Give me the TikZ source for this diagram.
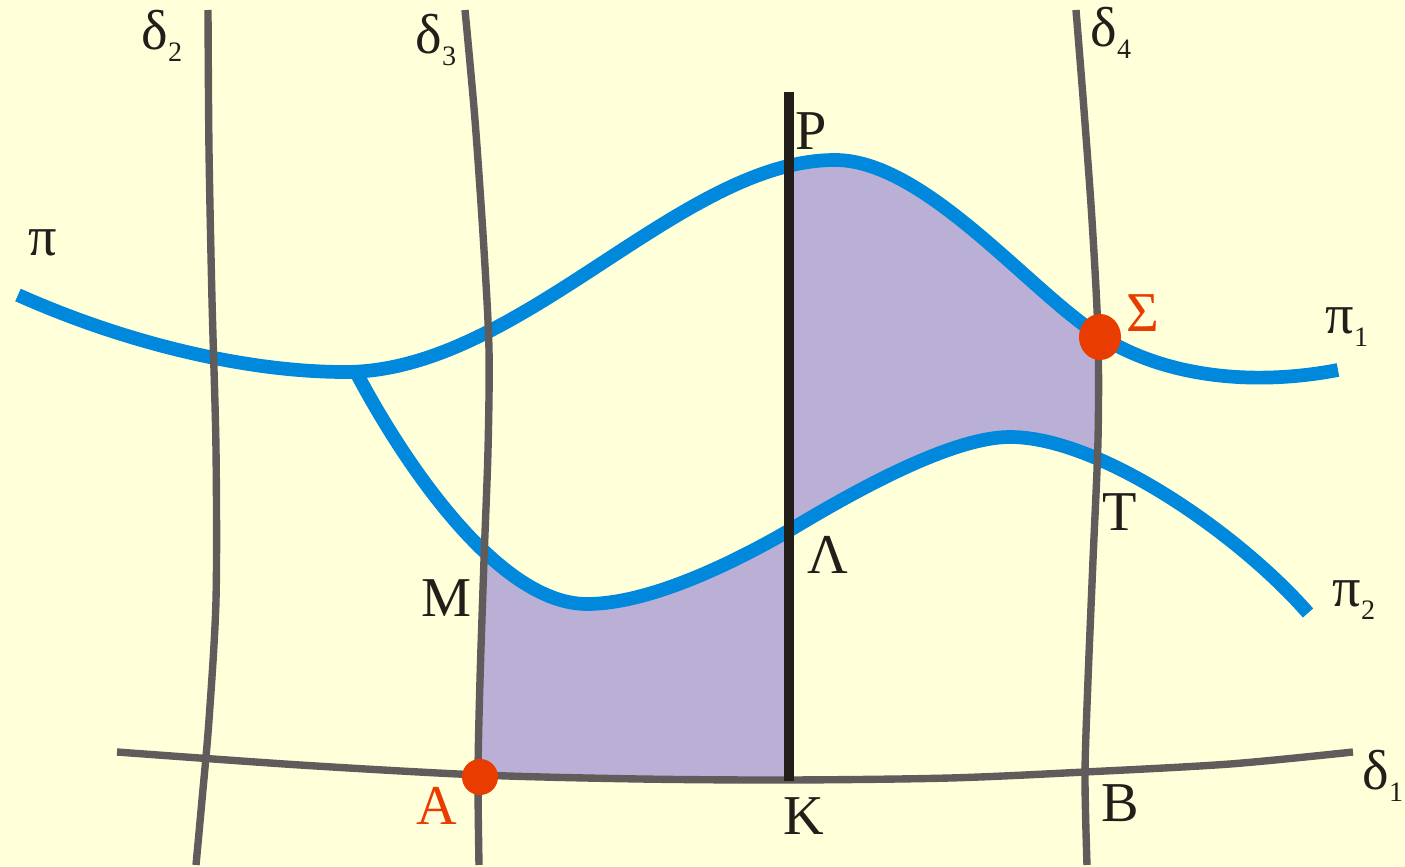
\documentclass[tikz,border=0pt]{standalone}
\usepackage{fontspec}
\setmainfont{Liberation Serif}
\definecolor{bgc}{RGB}{255,255,217}
\definecolor{bluec}{RGB}{0,136,221}
\definecolor{grayc}{RGB}{96,92,92}
\definecolor{purc}{RGB}{186,176,214}
\definecolor{redc}{RGB}{232,60,0}
\definecolor{blackc}{RGB}{34,31,27}
\newcommand\mysub[1]{\raisebox{-0.22em}{\fontsize{8}{8}\selectfont #1}}
\def\pDtwo{plot[smooth] coordinates {(208,10) (209,150) (212,300) (216,450) (216,600) (209,720) (202,800) (196,865)}}
\def\pDthree{plot[smooth] coordinates {(465,10) (475,120) (484,250) (489,350) (488,450) (484,560) (480,680) (478,775) (479,865)}}
\def\pDfour{plot[smooth] coordinates {(1076,10) (1084,110) (1092,220) (1098,335) (1098,440) (1093,560) (1088,680) (1085,775) (1087,865)}}
\def\pDone{plot[smooth] coordinates {(117,752) (300,765) (480,775) (640,779) (789,780) (950,778) (1085,772) (1230,764) (1353,752)}}
\def\pPi{(18,295) .. controls (130,345) and (250,372) .. (345,372)
  .. controls (520,372) and (680,160) .. (835,160)
  .. controls (925,160) and (1030,292) .. (1100,336)
  .. controls (1170,380) and (1260,385) .. (1338,370)}
\def\pPiTwo{(357,374) .. controls (407,468) and (500,604) .. (587,604)
  .. controls (650,604) and (735,562) .. (790,530)
  .. controls (850,494) and (950,437) .. (1010,437)
  .. controls (1100,437) and (1240,535) .. (1308,613)}
\begin{document}
\begin{tikzpicture}[x=0.01cm,y=-0.01cm,
  gline/.style={draw=grayc,line width=2.1pt},
  bline/.style={draw=bluec,line width=3.9pt},
  kline/.style={draw=blackc,line width=2.8pt},
  lbl/.style={inner sep=0pt,text=blackc,font=\fontsize{16}{19}\selectfont},
  rlbl/.style={lbl,text=redc}]
\fill[bgc] (0,0) rectangle (1405,867);
\useasboundingbox (0,0) rectangle (1405,867);
% shaded regions
\begin{scope}
  \clip \pDthree -- (1000,867) -- (1000,0) -- cycle;
  \clip (0,0) rectangle (789,867);
  \clip \pPiTwo -- (1308,867) -- (357,867) -- cycle;
  \fill[purc] \pDone -- (1353,0) -- (117,0) -- cycle;
\end{scope}
\begin{scope}
  \clip \pDfour -- (789,867) -- (789,0) -- cycle;
  \clip \pPi -- (1338,867) -- (18,867) -- cycle;
  \fill[purc] \pPiTwo -- (1308,0) -- (357,0) -- cycle;
\end{scope}
% blue curves
\path[bline] \pPi;
\path[bline] \pPiTwo;
% gray lines
\path[gline] \pDtwo;
\path[gline] \pDthree;
\path[gline] \pDfour;
\path[gline] \pDone;
% vertical
\coordinate (Ptop) at (789,92);
\coordinate (Kbot) at (789,781);
\draw[kline] (Ptop) -- (Kbot);
% red points
\fill[redc] (480,777) circle[radius=0.18cm];
\fill[redc] (1100,337) ellipse[x radius=0.21cm,y radius=0.23cm];
% labels
\node[lbl] (d2) at (162,36) {δ\mysub{2}};
\node[lbl] (d3) at (436,40) {δ\mysub{3}};
\node[lbl] (d4) at (1111,33) {δ\mysub{4}};
\node[lbl] (d1) at (1383,776) {δ\mysub{1}};
\node[lbl] (pi) at (43,243) {π};
\node[lbl] (pi1) at (1347,327) {π\mysub{1}};
\node[lbl] (pi2) at (1354,600) {π\mysub{2}};
\node[lbl] (P) at (811,131) {P};
\node[rlbl] (S) at (1143,313) {Σ};
\node[lbl] (T) at (1120,512) {T};
\node[lbl] (L) at (828,555) {Λ};
\node[lbl] (M) at (447,598) {M};
\node[rlbl] (A) at (437,806) {A};
\node[lbl] (K) at (804,816) {K};
\node[lbl] (B) at (1120,803) {B};
\end{tikzpicture}
\end{document}
